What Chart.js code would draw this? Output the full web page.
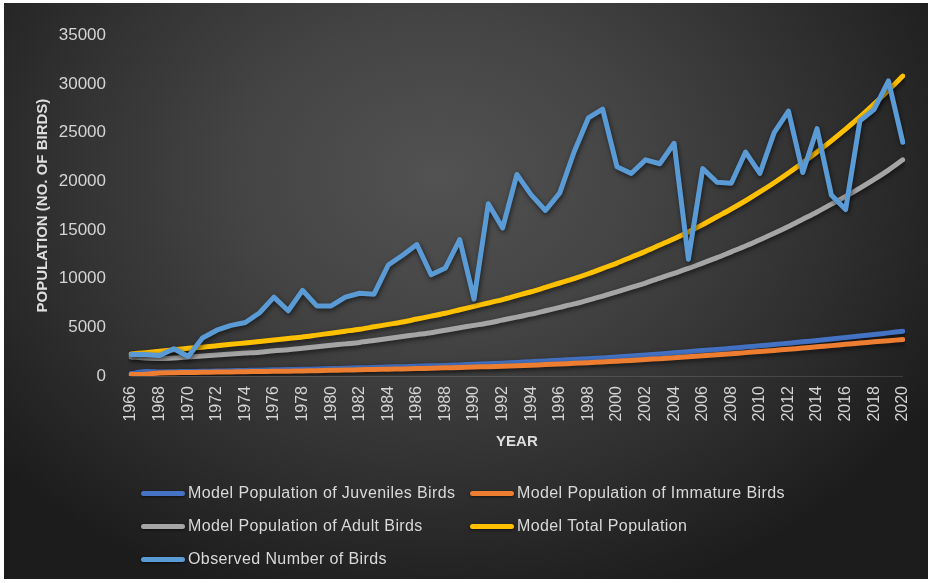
<!DOCTYPE html>
<html>
<head>
<meta charset="utf-8">
<script src="https://cdn.jsdelivr.net/npm/chart.js@4.4.1/dist/chart.umd.min.js"></script>
<style>
  html, body { margin: 0; padding: 0; background: #ffffff; }
  #wrap { position: relative; width: 932px; height: 583px; overflow: hidden; }
  #bg { position: absolute; left: 4px; top: 3px; width: 924px; height: 576px;
        background: radial-gradient(ellipse 62% 78% at 47% 30%, #525252 0%, #444444 35%, #2f2f2f 70%, #1c1c1c 100%); }
  #c { position: absolute; left: 0; top: 0; }
  .lg { position: absolute; font-family: 'Liberation Sans', Arial, sans-serif; font-size: 16px; color: #d9d9d9;
        letter-spacing: 0.4px; white-space: nowrap; line-height: 18px; }
  .sw { position: absolute; height: 5px; width: 44px; border-radius: 3px; box-shadow: 0 1px 3px rgba(0,0,0,0.6); }
</style>
</head>
<body>
<div id="wrap">
  <div id="bg"></div>
  <canvas id="c" width="932" height="583"></canvas>
  <div id="legend"></div>
</div>
<script>
const years = ['1966','1967','1968','1969','1970','1971','1972','1973','1974','1975',
  '1976','1977','1978','1979','1980','1981','1982','1983','1984','1985',
  '1986','1987','1988','1989','1990','1991','1992','1993','1994','1995',
  '1996','1997','1998','1999','2000','2001','2002','2003','2004','2005',
  '2006','2007','2008','2009','2010','2011','2012','2013','2014','2015',
  '2016','2017','2018','2019','2020'];

const juveniles = [250,450,420,440,460,490,510,540,570,600,
  630,660,690,720,760,800,840,880,920,960,
  1000,1040,1090,1140,1200,1260,1320,1390,1470,1550,
  1620,1700,1780,1860,1950,2050,2150,2260,2380,2500,
  2610,2720,2840,2970,3100,3230,3370,3510,3650,3800,
  3950,4110,4270,4430,4600];

const immature = [150,180,320,340,360,380,400,420,440,460,
  480,500,520,550,580,610,640,670,700,730,
  760,800,840,880,920,960,1000,1050,1110,1170,
  1230,1300,1370,1440,1520,1600,1690,1780,1880,1980,
  2080,2180,2290,2400,2510,2630,2750,2870,3000,3120,
  3250,3380,3510,3620,3750];

const adults = [1950,1850,1800,1850,1950,2050,2150,2250,2350,2450,
  2600,2700,2850,3000,3150,3300,3450,3650,3850,4050,
  4250,4450,4700,4950,5200,5450,5750,6050,6350,6700,
  7050,7400,7800,8200,8650,9100,9550,10050,10550,11050,
  11600,12150,12750,13350,14000,14650,15350,16100,16850,17650,
  18450,19300,20200,21150,22200];

const totalModel = [2250,2400,2550,2700,2850,2950,3100,3250,3400,3550,
  3700,3850,4000,4200,4400,4600,4800,5050,5300,5550,
  5850,6150,6450,6800,7150,7500,7850,8250,8650,9100,
  9550,10000,10500,11050,11600,12200,12800,13450,14100,14800,
  15550,16350,17150,18000,18900,19850,20850,21900,23000,24150,
  25350,26600,27950,29350,30800];

const observed = [2200,2200,2100,2800,2000,3900,4700,5200,5500,6500,
  8100,6700,8800,7200,7200,8100,8500,8400,11400,12400,
  13500,10400,11100,14000,7900,17700,15200,20700,18600,17000,
  18800,23000,26500,27400,21500,20800,22200,21800,23900,12000,
  21300,19900,19800,23000,20800,25000,27200,20900,25400,18600,
  17100,26200,27400,30300,24000];

const yTicks = [0,5000,10000,15000,20000,25000,30000,35000];

const seriesLabels = ['Model Population of Juveniles Birds','Model Population of Immature Birds',
  'Model Population of Adult Birds','Model Total Population','Observed Number of Birds'];
const seriesColors = ['#4472C4','#ED7D31','#A5A5A5','#FFC000','#5B9BD5'];

const FONT = "'Liberation Sans', Arial, sans-serif";

const shadowPlugin = {
  id: 'lineShadow',
  beforeDatasetDraw(chart) {
    const ctx = chart.ctx;
    ctx.save();
    ctx.shadowColor = 'rgba(0,0,0,0.6)';
    ctx.shadowBlur = 5;
    ctx.shadowOffsetX = 1;
    ctx.shadowOffsetY = 2;
  },
  afterDatasetDraw(chart) { chart.ctx.restore(); }
};

function ds(i, data, order, tension) {
  return { label: seriesLabels[i], data: data, borderColor: seriesColors[i], backgroundColor: seriesColors[i],
    borderWidth: 5, pointRadius: 0, tension: tension, order: order, fill: false,
    borderCapStyle: 'round', borderJoinStyle: 'round' };
}

const chart = new Chart(document.getElementById('c'), {
  type: 'line',
  data: {
    labels: years,
    datasets: [
      ds(0, juveniles, 5, 0.3),
      ds(1, immature, 4, 0.3),
      ds(2, adults, 3, 0.3),
      ds(3, totalModel, 2, 0.3),
      ds(4, observed, 1, 0)
    ]
  },
  options: {
    responsive: false,
    animation: false,
    layout: { autoPadding: false, padding: { left: 30, right: 27, top: 24, bottom: 128 } },
    plugins: { legend: { display: false }, tooltip: { enabled: false } },
    scales: {
      x: {
        offset: false,
        grid: { display: false, drawTicks: false },
        border: { display: true, color: 'rgba(255,255,255,0.13)', width: 1 },
        ticks: {
          autoSkip: false, minRotation: 90, maxRotation: 90, padding: 10,
          color: '#d4d4d4', font: { family: FONT, size: 16 },
          callback: function(v, i) { return i % 2 === 0 ? years[i] : ''; }
        },
        title: { display: true, text: 'YEAR', color: '#dedede', font: { family: FONT, size: 15, weight: 'bold' }, padding: { top: 4, bottom: 4 } },
        afterFit: function(s) { s.height = 79; }
      },
      y: {
        min: 0, max: 35000,
        grid: { display: false, drawTicks: false },
        border: { display: false },
        afterBuildTicks: function(s) { s.ticks = yTicks.map(v => ({ value: v })); },
        ticks: {
          padding: 25, color: '#d4d4d4', font: { family: FONT, size: 17 },
          callback: function(v) { return String(v); }
        },
        title: { display: true, text: 'POPULATION (NO. OF BIRDS)', color: '#dedede', font: { family: FONT, size: 15, weight: 'bold' }, padding: { top: 4, bottom: 4 } },
        afterFit: function(s) { s.width = 101; }
      }
    }
  },
  plugins: [shadowPlugin]
});

// HTML legend built from the chart's datasets
const legendPos = [[141, 493], [470, 493], [141, 526], [470, 526], [141, 559]];
const lg = document.getElementById('legend');
chart.data.datasets.forEach(function(d, i) {
  const p = legendPos[i];
  const sw = document.createElement('div');
  sw.className = 'sw';
  sw.style.left = p[0] + 'px';
  sw.style.top = (p[1] - 2.5) + 'px';
  sw.style.background = d.borderColor;
  lg.appendChild(sw);
  const t = document.createElement('div');
  t.className = 'lg';
  t.style.left = (p[0] + 47) + 'px';
  t.style.top = (p[1] - 9) + 'px';
  t.textContent = d.label;
  lg.appendChild(t);
});
</script>
</body>
</html>
